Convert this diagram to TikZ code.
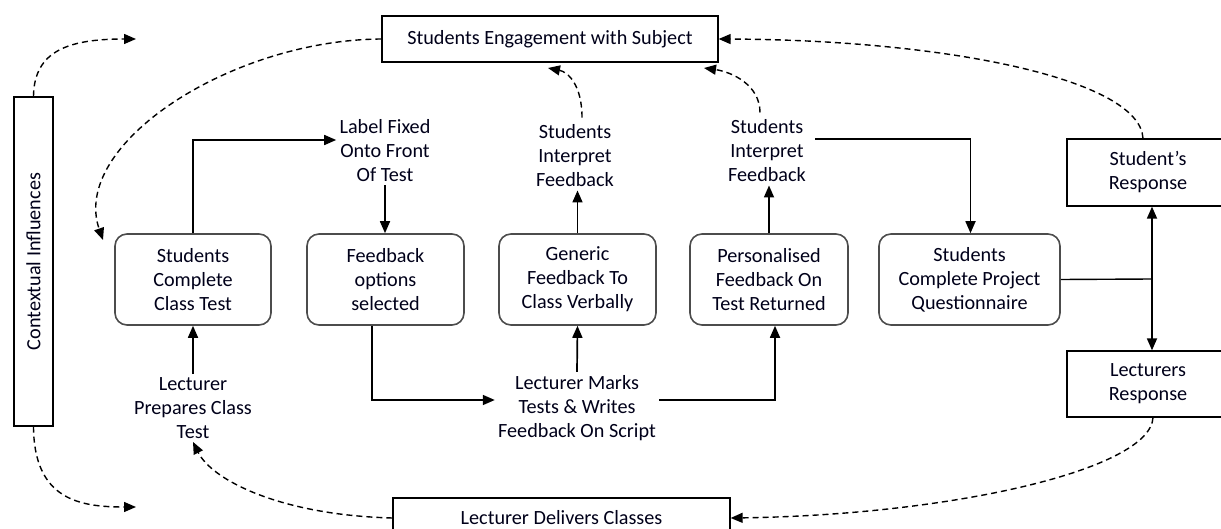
\documentclass[tikz,border=0pt]{standalone}
\usepackage{fontspec}
\setmainfont{Carlito}
\usetikzlibrary{arrows.meta,calc}
\begin{document}
\begin{tikzpicture}[x=0.5pt,y=-0.5pt,
  every node/.style={font=\fontsize{10.1pt}{12pt}\selectfont, text=black!90!blue},
  rbox/.style={draw=black!70, line width=0.8pt, rounded corners=6pt, align=center, minimum height=45.5pt, inner sep=1pt},
  sbox/.style={draw=black, line width=0.65pt, align=center, inner sep=1pt},
  lbl/.style={align=center, inner sep=1.5pt},
  arr/.style={line width=0.85pt, -{Triangle[length=6pt,width=5pt]}},
  darr/.style={line width=0.85pt, {Triangle[length=6pt,width=5pt]}-{Triangle[length=6pt,width=5pt]}},
  ln/.style={line width=0.7pt},
  dsh/.style={line width=0.7pt, dash pattern=on 3pt off 2pt, -{Triangle[length=6pt,width=5pt]}}
]
\useasboundingbox (0,0) rectangle (1221,529);

% boxes
\node[sbox, rotate=90, minimum width=164.5pt, minimum height=19.5pt] (ctx) at (33.5,261.5) {Contextual Influences};
\node[sbox, minimum width=168pt, minimum height=23pt] (eng) at (550,39) {Students Engagement with Subject};
\node[sbox, minimum width=168.5pt, minimum height=20pt] (del) at (561.5,518) {Lecturer Delivers Classes};
\node[sbox, minimum width=81pt, minimum height=33.5pt] (sresp) at (1148,172.5) {Student’s\\Response};
\node[sbox, minimum width=81pt, minimum height=33pt] (lresp) at (1148,384) {Lecturers\\Response};

\node[rbox, minimum width=78pt] (b1) at (193,279.5) {Students\\Complete\\Class Test};
\node[rbox, minimum width=78.5pt] (b2) at (385.5,279.5) {Feedback\\options\\selected};
\node[rbox, minimum width=78.5pt] (b3) at (577.5,279.5) {Generic\\Feedback To\\Class Verbally};
\node[rbox, minimum width=79pt] (b4) at (769,279.5) {Personalised\\Feedback On\\Test Returned};
\node[rbox, minimum width=90.5pt] (b5) at (969.5,279.5) {Students\\Complete Project\\Questionnaire};

% labels
\node[lbl] (lab) at (385,151) {Label Fixed\\Onto Front\\Of Test};
\node[lbl] (sif1) at (575,156) {Students\\Interpret\\Feedback};
\node[lbl] (sif2) at (767,151) {Students\\Interpret\\Feedback};
\node[lbl] (lpct) at (193,408) {Lecturer\\Prepares Class\\Test};
\node[lbl] (lmt) at (577,408) {Lecturer Marks\\Tests \& Writes\\Feedback On Script};

% solid connectors
\draw[arr] (b1.north) |- ($(lab.west)+(0,-11)$);
\draw[arr] (lab.south) -- (lab.south |- b2.north);
\draw[arr] (b3.north) -- (b3.north |- sif1.south);
\draw[arr] (b4.north) -- (b4.north |- sif2.south);
\draw[arr] ($(sif2.east)+(6,-12)$) -| ($(b5.north)+(1,0)$);
\draw[arr] (lpct.north) -- (b1.south);
\draw[arr] (lmt.north) -- (b3.south);
\draw[arr] ($(b2.south)+(-13.5,0)$) |- ($(lmt.west)+(0,-8)$);
\draw[arr] ($(lmt.east)+(0,-8)$) -| ($(b4.south)+(6,0)$);
\coordinate (jx) at (1152,279);
\draw[ln] (b5.east) -- (jx);
\draw[darr] ($(sresp.south)+(4,0)$) -- ($(lresp.north)+(4,0)$);

% dashed curves
\coordinate (c1) at (136,39);
\coordinate (c2) at (103,240);
\coordinate (c4) at (136,507);
\coordinate (e1) at (548,68);
\coordinate (e2) at (704,68);
\draw[dsh] (ctx.east) .. controls (34,50) and (70,39) .. (c1);
\draw[dsh] (eng.west) .. controls (230,40) and (70,145) .. (c2);
\draw[dsh] ($(sresp.north)+(-5,0)$) .. controls (1140,80) and (950,40) .. (eng.east);
\draw[dsh] (ctx.west) .. controls (34,500) and (80,507) .. (c4);
\draw[dsh] (del.west) .. controls (280,515) and (212,480) .. (lpct.south);
\draw[dsh] ($(lresp.south)+(5,0)$) .. controls (1150,470) and (950,515) .. (del.east);
\draw[dsh] ($(sif1.north)+(7,-4)$) .. controls (582,85) and (568,72) .. (e1);
\draw[dsh] ($(sif2.north)+(-7,-4)$) .. controls (760,85) and (732,72) .. (e2);
\end{tikzpicture}
\end{document}
